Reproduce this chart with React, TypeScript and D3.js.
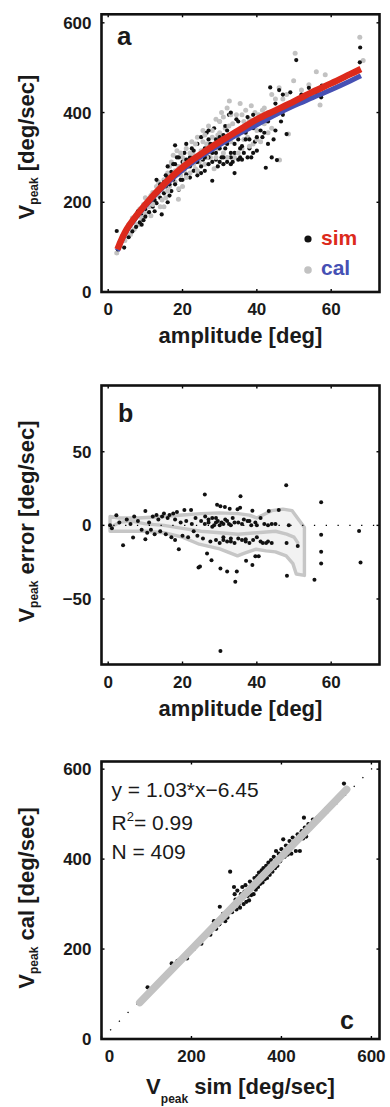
import React from 'react';
import * as d3 from 'd3';

const W = 390;
const H = 1107;
const FONT = '"Liberation Sans", Arial, Helvetica, sans-serif';

// ---------- Panel a: peak velocity vs amplitude ----------
const ampTicks = [0, 20, 40, 60];
const vTicks = [0, 200, 400, 600];

const simPoints: [number, number][] = [
  [2.3,136],[2.6,95],[4.3,99],[3.5,118],[4.5,128],[5,140],[5.5,122],[6,150],[6.5,135],[7,160],[7.5,145],[8,170],[8.5,155],[9,175],[9.5,160],[10,185],[10,168],
  [10.5,195],[11,178],[11.5,200],[12,190],[12,215],[12.5,205],[13,198],[13.5,225],[14,210],[14.4,173],[14.5,232],[15,220],[15,245],[15.5,235],[16,200],[16,255],[16.5,240],[17,268],[17,225],[17.5,250],[18,327],[18,285],[18,240],[18.5,262],[19,300],[19,228],[19.5,275],[20,250],[20,290],
  [20.5,310],[21,262],[21.5,280],[22,255],[22,300],[22.5,320],[23,270],[23.5,290],[24,330],[24,260],[24.5,305],[25,280],[25,345],[25.5,295],[26,270],[26,320],[26.5,355],[27,300],[27,285],[27.5,330],[28,248],[28,310],[28.5,365],[29,295],[29,340],[29.5,280],[30,320],[30,290],[30,380],
  [30.5,300],[31,285],[31,350],[31.5,370],[32,290],[32,330],[32.5,395],[33,300],[33,285],[33.5,345],[34,265],[34,310],[34.5,385],[35,295],[35,340],[35.5,300],[36,360],[36,325],[36.5,310],[37,355],[37.5,390],[38,340],[38,320],[38.5,300],[39,365],[39.5,335],[40,375],[40,315],
  [41,360],[41.5,345],[42,390],[42.4,277],[43,330],[43.6,456],[44,400],[44.5,340],[45,420],[45.4,294],[46,450],[46.5,380],[47,440],[48,352],[49,445],[50.6,517],
  [52,440],[54,455],[56,445],[57.3,434],[57.5,460],[67.8,545],[67.7,512],
  [8,180],[9,150],[11,205],[12.5,180],[13,220],[14,240],[15.5,260],[16.5,215],[17.5,285],[18.5,300],[19.5,250],[20.5,275],[21,295],[22,280],[23,315],[24,290],[25,265],[26,300],[27,340],[28,290],[28.5,330],[29,310],[30,345],[31,300],[31.5,320],[32,360],[33,310],[33.5,290],[34,330],[35,380],[35.5,320],[36,295],[37,340],[37.5,300],[38,370],[39,310],[40,345],[41,390],[42,355],[43,380],[44,300],[45,360],[46,410],[47,395],[39,395],[33,400],[27,360],[21,330],[16,280],[13,250]
];

const calPoints: [number, number][] = [
  [2.3,87],[3,110],[3.8,125],[4.5,115],[5,135],[5.5,150],[6,128],[6.5,165],[7,140],[7.5,172],[8,150],[8.5,185],[9,165],[9.5,195],[10,175],[10.5,205],[11,190],[11.5,170],[12,222],[12.5,200],[13,235],[13.5,215],[14,190],[14.5,228],[15,250],[15.5,210],[16,265],[16.5,235],[17,290],[17.5,258],[17.5,305],[18,245],[18.5,315],[18.9,207],[19,280],[19.5,260],[20,300],[20.5,270],[21,320],[21.5,288],[22,265],[22.5,335],[23,305],[23.5,275],[24,345],[24.5,290],[25,315],[25.5,360],[26,285],[26.5,330],[27,370],[27.5,300],[28,345],[28.5,275],[29,385],[29.5,320],[30,355],[30.5,400],[31,310],[31.5,365],[32,410],[32.6,426],[33,335],[33.5,375],[34,300],[34.5,395],[35,350],[35.5,420],[36,320],[36.5,380],[37,405],[37.5,345],[38,385],[38.5,415],[39,330],[39.5,400],[40,360],[40.5,395],[41,335],[41.5,405],[42,375],[43,355],[44,440],[45,395],[46,455],[46.1,294],[47,430],[48,440],[48.5,352],[49.9,471],[50.3,532],[52,450],[54,462],[56,491],[57,417],[58.4,484],[67.7,568],[68.6,516],
  [7,155],[9,180],[10,210],[11.5,215],[12,195],[13.5,245],[14.5,205],[15,235],[16,225],[16.5,280],[17,250],[18,270],[19,230],[19.5,310],[20.5,290],[21,255],[22,310],[23,285],[23.5,330],[24,270],[25,300],[25.5,335],[26.5,300],[27,320],[28,360],[29,300],[29.5,350],[30,380],[31,335],[32,300],[32.5,370],[33,395],[34,350],[35,310],[36,395],[36.5,340],[37,370],[38,325],[39,375],[40,340],[41,380],[42,410],[43,400],[44,365],[45,430],[47,410],[15,190],[20,235],[26,350],[31,390]
];

const simFit: [number, number][] = [
  [2.5,95],[5,140],[10,195],[15,240],[20,278],[25,308],[30,335],[35,360],[40,385],[45,405],[50,425],[55,446],[60,465],[65,485],[68,497]
];
const calFit: [number, number][] = [
  [2.5,92],[5,137],[10,192],[15,236],[20,272],[25,302],[30,328],[35,352],[40,373],[45,395],[50,415],[55,433],[60,451],[65,470],[68,482]
];

// ---------- Panel b: error vs amplitude ----------
const errTicks = [-50, 0, 50];
const errPoints: [number, number][] = [
  [0.5,0],[1,-2],[2.2,6.8],[3,2],[4,-13.5],[5,4],[6,1],[6.7,-8.3],[7,6],[8,3],[9,-3],[10,9.7],[10,-9.5],[10.5,-5],[11,2],[11.5,-3],[12,6],[12.5,-6],[13,7],[13.5,4],[14,-4],[14.5,6],[15,8],[15.5,-6],[16,5],[16.5,7],[17,-8],[17.5,8],[18,-10],[18,4],[18.5,9],[19,-16.2],[19.5,2],[20,-7],[20.5,10.4],[21,3],[21.5,-8],[22.3,10.4],[22.5,1],[23,-4],[23.5,5],[24,-7],[24.3,-28.6],[24.7,-28],[25,3],[25.5,-9],[26,21],[26.1,6],[26.6,-19.1],[27,2],[27.5,-11],[27.8,-23.7],[28,5],[28.5,0],[29,-10],[29.3,14],[29.5,3],[30,-12],[30.2,13],[30.2,-29.3],[30.2,-85.4],[30.5,2],[31,-8],[31.4,12.4],[31.5,4],[32,-31.3],[32,-11],[32.5,1],[32.7,11.3],[33,-9],[33.5,5],[34,-12],[34.2,-38.3],[34.6,-31.3],[34.8,11],[35,2],[35.5,12],[35.6,19.8],[36,-10],[36.5,4],[37,-9.5],[37.1,-24],[37.5,3],[38,-12],[38.5,0],[38.8,-27],[38.8,10],[39.6,-21],[39.6,2],[40,-8],[40.5,-21],[41,5],[41.6,-12],[42,1],[42.5,-12],[43,0],[43.2,9.7],[44,1],[45,1],[45.9,10.4],[47.9,27.2],[48,-12],[48.1,-34.2],[48.6,0],[51,-14],[55.5,-37],[57.3,15.7],[57.3,-6.3],[57.3,-18],[57.3,-25.9],[67.5,-3.8],[67.9,-25.2],
  [26,1],[27,4],[28,-1],[29,2],[29,5],[30,0],[31,1],[31,-10],[32,3],[33,0],[33,-11],[34,2],[35,-9],[36,1],[37,-11],[38,3],[39,-10],[40,0],[41,-11],[43,-11],[44,-12]
];
const bandOuter: [number, number][] = [
  [0.5,6],[3,5],[8,5],[15,6],[20,7],[25,8],[30,8.5],[35,8],[38,7],[40,5],[44,10],[47,11],[49.5,10],[52.8,-1.5],
  [52.8,-34],[50.6,-33],[49.7,-26],[47.9,-20.7],[45,-18],[42.5,-17.3],[39.8,-16.2],[36.5,-19],[34.8,-20.7],[30,-16],[24.5,-12.8],[20,-8],[15,-5],[10,-4],[5,-4],[0.5,-4]
];
const bandInner: [number, number][] = [
  [0.5,-1.4],[3,2],[6,3],[10,1],[15,0],[20,-2],[25,-4],[30,-5],[35,-6],[40,-5],[45,-4],[48,-6],[50,-8],[51,-11.7]
];

// ---------- Panel c: cal vs sim ----------
const vcTicks = [0, 200, 400, 600];
const simCalPoints: [number, number][] = [
  [102.5,115],[156,168],[169,174],[190,179],[205,200],[222,212],[235,238],[242,232],[250,262],[255,245],[262,255],[263,294],[270,278],[275,262],[280,270],[286,372],[290,282],[292,298],[294.6,338],[296,322],[298,310],[300,288],[302,330],[305,300],[308,292],[310,322],[313,338],[316,300],[318,328],[320,342],[322,305],[325,318],[328,308],[330,350],[333,320],[335,345],[338,322],[340,358],[343,332],[346,362],[348,338],[350,370],[353,345],[356,375],[358,348],[360,380],[363,355],[366,385],[368,358],[371,392],[374,365],[377,398],[380,372],[383,405],[386,380],[388,418],[391,385],[394,412],[397,395],[400,422],[404,444],[407,405],[410,430],[414,410],[418,440],[422,412],[425,448],[432,418],[436,455],[441,418],[445,462],[448,446],[450,492],[452,470],[455,450],[460,478],[470,488],[480,492],[500,512],[520,532],[539,568]
];
const regLine: [number, number][] = [[85, 81], [545, 555]];
const identity: [number, number][] = [[0, 0], [620, 620]];
const eqLines = ['y = 1.03*x\u22126.45', 'R', 'N = 409'];

const fmt = (v: number) => (v < 0 ? '\u2212' + Math.abs(v) : String(v));

function Axes({ xs, ys, xTicks, yTicks, xLabelDx }: any) {
  const [x0, x1] = xs.range();
  const [y0, y1] = ys.range();
  const tl = 3;
  return (
    <g>
      {xTicks.map((t: number, i: number) => (
        <g key={'x' + t}>
          <line x1={xs(t)} x2={xs(t)} y1={y0} y2={y0 - tl} stroke="#000" strokeWidth={1.4} />
          <line x1={xs(t)} x2={xs(t)} y1={y1} y2={y1 + tl} stroke="#000" strokeWidth={1.4} />
          <text x={xs(t) + (i === 0 && xLabelDx ? xLabelDx : 0)} y={y0 + 23} textAnchor="middle" fontSize={17} fontWeight="bold" fill="#1a1a1a">{fmt(t)}</text>
        </g>
      ))}
      {yTicks.map((t: number) => (
        <g key={'y' + t}>
          <line x1={x0} x2={x0 + tl} y1={ys(t)} y2={ys(t)} stroke="#000" strokeWidth={1.4} />
          <line x1={x1} x2={x1 - tl} y1={ys(t)} y2={ys(t)} stroke="#000" strokeWidth={1.4} />
          <text x={x0 - 10} y={ys(t)} dy="0.36em" textAnchor="end" fontSize={17} fontWeight="bold" fill="#1a1a1a">{fmt(t)}</text>
        </g>
      ))}
      <rect x={x0} y={y1} width={x1 - x0} height={y0 - y1} fill="none" stroke="#111" strokeWidth={2.6} />
    </g>
  );
}

function YTitle({ x, y, rest }: { x: number; y: number; rest: string }) {
  return (
    <text transform={`translate(${x},${y}) rotate(-90)`} textAnchor="middle" fontSize={22} fontWeight="bold" fill="#1a1a1a">
      V<tspan fontSize={12} dy={4}>peak</tspan><tspan dy={-4}>{rest}</tspan>
    </text>
  );
}

export default function App() {
  const L = 101.5, R = 379.5;
  const xa = d3.scaleLinear().domain([-1.8, 73]).range([L, R]);
  const ya = d3.scaleLinear().domain([0, 619]).range([292, 14.3]);
  const xb = d3.scaleLinear().domain([-1.8, 73]).range([L, R]);
  const yb = d3.scaleLinear().domain([-94.5, 95]).range([664.5, 385.5]);
  const xc = d3.scaleLinear().domain([0, 618]).range([L, R]);
  const yc = d3.scaleLinear().domain([0, 617]).range([1039, 761.5]);

  const lineA = d3.line<[number, number]>().x(d => xa(d[0])).y(d => ya(d[1])).curve(d3.curveCatmullRom);
  const lineB = d3.line<[number, number]>().x(d => xb(d[0])).y(d => yb(d[1])).curve(d3.curveLinear);
  const lineC = d3.line<[number, number]>().x(d => xc(d[0])).y(d => yc(d[1]));

  const red = '#dc2a1c';
  const blue = '#4650b4';
  const gray = '#c2c2c2';

  const n = Math.max(simPoints.length, calPoints.length);
  const idx = d3.range(n);

  return (
    <svg width={W} height={H} style={{ position: 'absolute', left: 0, top: 0, fontFamily: FONT }}>
      <rect width={W} height={H} fill="#fff" />
      {/* ---------- Panel a ---------- */}
      <g>
        {idx.map(i => (
          <g key={i}>
            {calPoints[i] && <circle cx={xa(calPoints[i][0])} cy={ya(calPoints[i][1])} r={2.5} fill={gray} />}
            {simPoints[i] && <circle cx={xa(simPoints[i][0])} cy={ya(simPoints[i][1])} r={2.1} fill="#111" />}
          </g>
        ))}
        <path d={lineA(calFit) || ''} fill="none" stroke={blue} strokeWidth={5} />
        <path d={lineA(simFit) || ''} fill="none" stroke={red} strokeWidth={6.5} />
        <circle cx={308} cy={239} r={3.6} fill="#111" />
        <text x={321} y={245} fontSize={21} fontWeight="bold" fill={red}>sim</text>
        <circle cx={308} cy={270} r={3.8} fill={gray} />
        <text x={321} y={275} fontSize={21} fontWeight="bold" fill={blue}>cal</text>
        <text x={117} y={45} fontSize={26} fontWeight="bold" fill="#1a1a1a">a</text>
        <Axes xs={xa} ys={ya} xTicks={ampTicks} yTicks={vTicks} />
        <text x={(L + R) / 2} y={343} textAnchor="middle" fontSize={22} fontWeight="bold" fill="#1a1a1a">amplitude [deg]</text>
        <YTitle x={34} y={147} rest=" [deg/sec]" />
      </g>

      {/* ---------- Panel b ---------- */}
      <g>
        <path d={(lineB(bandOuter) || '') + 'Z'} fill="#f2f2f2" stroke="#c6c6c6" strokeWidth={3.4} strokeLinejoin="round" />
        <path d={lineB(bandInner) || ''} fill="none" stroke="#c6c6c6" strokeWidth={3.4} strokeLinejoin="round" strokeLinecap="round" />
        <line x1={xb(-1.8)} x2={xb(73)} y1={yb(0)} y2={yb(0)} stroke="#000" strokeWidth={1.3} strokeDasharray="1.3 10.5" />
        {errPoints.map((d, i) => (
          <circle key={i} cx={xb(d[0])} cy={yb(d[1])} r={2} fill="#111" />
        ))}
        <text x={118} y={421.5} fontSize={25} fontWeight="bold" fill="#1a1a1a">b</text>
        <Axes xs={xb} ys={yb} xTicks={ampTicks} yTicks={errTicks} />
        <text x={(L + R) / 2} y={716} textAnchor="middle" fontSize={22} fontWeight="bold" fill="#1a1a1a">amplitude [deg]</text>
        <YTitle x={34} y={521.5} rest=" error [deg/sec]" />
      </g>

      {/* ---------- Panel c ---------- */}
      <g>
        <clipPath id="clipc"><rect x={L} y={761.5} width={R - L} height={1039 - 761.5} /></clipPath>
        <path d={lineC(identity) || ''} fill="none" stroke="#000" strokeWidth={1.3} strokeDasharray="1.3 11" clipPath="url(#clipc)" />
        {simCalPoints.map((d, i) => (
          <circle key={i} cx={xc(d[0])} cy={yc(d[1])} r={2.1} fill="#111" />
        ))}
        <path d={lineC(regLine) || ''} fill="none" stroke={gray} strokeWidth={7.5} strokeLinecap="round" />
        <text x={111.5} y={797} fontSize={21} fill="#1a1a1a">{eqLines[0]}</text>
        <text x={111.5} y={829.5} fontSize={21} fill="#1a1a1a">R<tspan fontSize={13} dy={-9}>2</tspan><tspan dy={9}>= 0.99</tspan></text>
        <text x={111.5} y={858.5} fontSize={21} fill="#1a1a1a">{eqLines[2]}</text>
        <text x={340} y={1028.5} fontSize={25} fontWeight="bold" fill="#1a1a1a">c</text>
        <Axes xs={xc} ys={yc} xTicks={vcTicks} yTicks={vcTicks} xLabelDx={8} />
        <text x={(L + R) / 2} y={1094} textAnchor="middle" fontSize={22} fontWeight="bold" fill="#1a1a1a">
          V<tspan fontSize={12} dy={9}>peak</tspan><tspan dy={-9}> sim [deg/sec]</tspan>
        </text>
        <YTitle x={34} y={898} rest=" cal [deg/sec]" />
      </g>
    </svg>
  );
}
